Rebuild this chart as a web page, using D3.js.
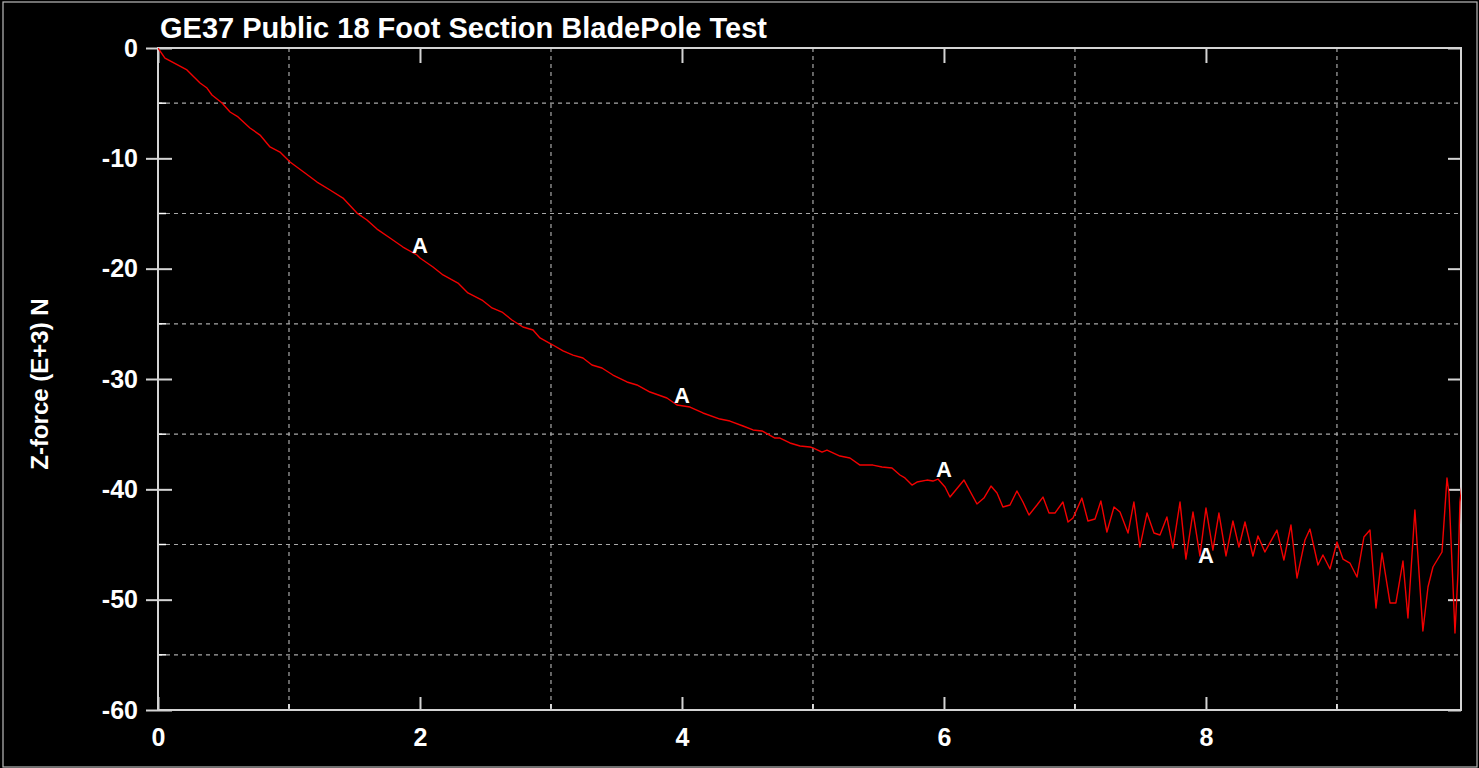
<!DOCTYPE html>
<html>
<head>
<meta charset="utf-8">
<script src="https://cdn.jsdelivr.net/npm/d3@7"></script>
<style>
  body { margin: 0; background: #000; }
  svg { display: block; font-family: "Liberation Sans", Arial, sans-serif; }
</style>
</head>
<body>
<div id="chart"></div>
<script>
const title = 'GE37 Public 18 Foot Section BladePole Test';
const yLabel = 'Z-force (E+3) N';

const xTicks = [0, 2, 4, 6, 8];
const xMinor = [1, 3, 5, 7, 9];
const yTicks = [0, -10, -20, -30, -40, -50, -60];
const yMinor = [-5, -15, -25, -35, -45, -55];

// displacement (x) and z-force (E+3 N)
const disp = [
  0, 0.053, 0.221, 0.244, 0.321, 0.374, 0.412, 0.489, 0.550, 0.611,
  0.702, 0.779, 0.855, 0.931, 1.008, 1.122, 1.214, 1.313, 1.412, 1.519,
  1.595, 1.672, 1.771, 1.870, 1.977, 2.000, 2.099, 2.176, 2.290, 2.366,
  2.473, 2.550, 2.626, 2.702, 2.786, 2.863, 2.916, 3.015, 3.092, 3.168,
  3.244, 3.313, 3.389, 3.473, 3.580, 3.656, 3.756, 3.885, 3.962, 4.061,
  4.160, 4.290, 4.366, 4.466, 4.542, 4.611, 4.710, 4.748, 4.824, 4.901,
  4.977, 5.000, 5.069, 5.107, 5.206, 5.282, 5.359, 5.458, 5.527, 5.603,
  5.664, 5.702, 5.756, 5.794, 5.870, 5.916, 5.954, 6.008, 6.046, 6.153,
  6.252, 6.305, 6.359, 6.405, 6.450, 6.504, 6.557, 6.603, 6.649, 6.710,
  6.756, 6.802, 6.847, 6.908, 6.947, 6.985, 7.053, 7.099, 7.153, 7.198,
  7.244, 7.298, 7.344, 7.405, 7.450, 7.496, 7.550, 7.603, 7.649, 7.702,
  7.748, 7.802, 7.847, 7.901, 7.954, 8.000, 8.053, 8.099, 8.153, 8.206,
  8.252, 8.298, 8.359, 8.397, 8.450, 8.542, 8.595, 8.649, 8.695, 8.756,
  8.794, 8.855, 8.893, 8.947, 9.000, 9.046, 9.099, 9.153, 9.206, 9.252,
  9.298, 9.344, 9.405, 9.450, 9.504, 9.542, 9.595, 9.656, 9.695, 9.733,
  9.802, 9.840, 9.855, 9.885, 9.901, 9.924, 9.939, 9.954
];
const force = [
  0, -0.91, -1.99, -2.27, -3.17, -3.63, -4.26, -4.99, -5.80, -6.25,
  -7.25, -7.89, -8.97, -9.43, -10.33, -11.33, -12.15, -12.87, -13.60, -14.96,
  -15.59, -16.41, -17.22, -18.04, -18.76, -19.03, -19.85, -20.57, -21.30, -22.20,
  -22.84, -23.56, -23.93, -24.65, -25.29, -25.56, -26.28, -26.92, -27.46, -27.83,
  -28.10, -28.73, -29.00, -29.64, -30.27, -30.54, -31.18, -31.72, -32.36, -32.54,
  -33.08, -33.63, -33.81, -34.26, -34.62, -34.71, -35.35, -35.35, -35.80, -36.07,
  -36.16, -36.25, -36.62, -36.44, -36.98, -37.16, -37.80, -37.80, -37.98, -38.07,
  -38.70, -38.97, -39.61, -39.34, -39.16, -39.25, -39.07, -39.79, -40.70, -39.16,
  -41.33, -40.79, -39.70, -40.33, -41.60, -41.42, -40.15, -41.15, -42.33, -41.42,
  -40.70, -42.15, -42.15, -41.15, -42.96, -42.60, -40.79, -42.87, -42.69, -41.06,
  -43.87, -41.60, -42.06, -43.96, -41.15, -45.23, -42.15, -43.96, -44.14, -42.51,
  -45.32, -41.15, -46.32, -42.06, -46.04, -41.69, -45.50, -42.15, -46.04, -42.87,
  -45.23, -42.96, -46.04, -44.23, -45.68, -43.69, -46.41, -43.23, -48.04, -44.59,
  -43.60, -46.86, -45.95, -47.22, -44.77, -46.32, -46.68, -47.95, -44.32, -43.69,
  -50.76, -45.77, -50.30, -50.30, -46.50, -51.66, -41.87, -52.84, -48.85, -47.04,
  -45.68, -38.97, -40.33, -48.49, -53.02, -47.58, -41.15, -39.61
];

// "A" symbols along the curve
const markerX = [2, 4, 6, 8];
const markerY = [-17.9, -31.5, -38.2, -46.0];

const width = 1479;
const height = 768;
const margin = { top: 48, right: 18, bottom: 58, left: 158 };
const w = width - margin.left - margin.right;
const h = height - margin.top - margin.bottom;

const axisColor = '#d4d4d4';
const gridColor = '#a8a8a8';
const tickText = d => String(d); // plain hyphen minus, as in the original

const svg = d3.select('#chart').append('svg')
  .attr('width', width)
  .attr('height', height);

svg.append('rect')
  .attr('width', width).attr('height', height)
  .attr('fill', '#000');

// outer frame of the picture
svg.append('rect')
  .attr('x', 3).attr('y', 2)
  .attr('width', width - 5).attr('height', height - 3)
  .attr('fill', 'none')
  .attr('stroke', '#bbb')
  .attr('stroke-width', 1.2);

const g = svg.append('g')
  .attr('transform', `translate(${margin.left},${margin.top})`);

const x = d3.scaleLinear().domain([0, 9.947]).range([0, w]);
const y = d3.scaleLinear().domain([-60, 0]).range([h, 0]);

// dashed grid at the half-steps
g.append('g').selectAll('line')
  .data(xMinor)
  .join('line')
  .attr('x1', d => x(d)).attr('x2', d => x(d))
  .attr('y1', 0).attr('y2', h)
  .attr('stroke', gridColor)
  .attr('stroke-width', 1.2)
  .attr('stroke-dasharray', '4,4');

g.append('g').selectAll('line')
  .data(yMinor)
  .join('line')
  .attr('x1', 0).attr('x2', w)
  .attr('y1', d => y(d)).attr('y2', d => y(d))
  .attr('stroke', gridColor)
  .attr('stroke-width', 1.2)
  .attr('stroke-dasharray', '4,4');

// minor ticks
g.append('g').selectAll('line')
  .data(yMinor)
  .join('line')
  .attr('x1', 0).attr('x2', 8)
  .attr('y1', d => y(d)).attr('y2', d => y(d))
  .attr('stroke', '#fff')
  .attr('stroke-width', 1.5);

g.append('g').selectAll('line')
  .data(xMinor)
  .join('line')
  .attr('x1', d => x(d)).attr('x2', d => x(d))
  .attr('y1', h).attr('y2', h - 6)
  .attr('stroke', '#fff')
  .attr('stroke-width', 1.5);

const styleAxis = sel => {
  sel.select('.domain').remove();
  sel.selectAll('.tick line').attr('stroke', axisColor).attr('stroke-width', 2);
  sel.selectAll('.tick text')
    .attr('fill', '#fff')
    .style('font-size', '25px')
    .style('font-weight', 'bold');
};

// Y axis: labels + outward ticks, then inward ticks
g.append('g')
  .call(d3.axisLeft(y).tickValues(yTicks).tickSize(12).tickPadding(8).tickFormat(tickText))
  .call(styleAxis)
  .attr('font-family', null);

g.append('g')
  .call(d3.axisRight(y).tickValues(yTicks).tickSize(14).tickFormat(''))
  .call(styleAxis);

// right axis ticks pointing inward
g.append('g')
  .attr('transform', `translate(${w},0)`)
  .call(d3.axisLeft(y).tickValues(yTicks).tickSize(13).tickFormat(''))
  .call(styleAxis);

// X axis: inward ticks, labels below
g.append('g')
  .attr('transform', `translate(0,${h})`)
  .call(d3.axisBottom(x).tickValues(xTicks).tickSize(-13).tickPadding(18).tickFormat(tickText))
  .call(styleAxis)
  .attr('font-family', null);

g.append('g')
  .call(d3.axisTop(x).tickValues(xTicks).tickSize(-15).tickFormat(''))
  .call(styleAxis);

// plot frame
g.append('rect')
  .attr('width', w).attr('height', h)
  .attr('fill', 'none')
  .attr('stroke', axisColor)
  .attr('stroke-width', 2);

// curve
g.append('clipPath').attr('id', 'plot-clip')
  .append('rect').attr('width', w).attr('height', h);

const line = d3.line()
  .x(i => x(disp[i]))
  .y(i => y(force[i]));

g.append('path')
  .datum(d3.range(disp.length))
  .attr('clip-path', 'url(#plot-clip)')
  .attr('fill', 'none')
  .attr('stroke', '#f20000')
  .attr('stroke-width', 1.4)
  .attr('stroke-linejoin', 'round')
  .attr('d', line);

// symbols
g.append('g').selectAll('text')
  .data(markerX)
  .join('text')
  .attr('x', d => x(d))
  .attr('y', (d, i) => y(markerY[i]))
  .attr('dy', '0.36em')
  .attr('text-anchor', 'middle')
  .attr('fill', '#fff')
  .style('font-size', '22px')
  .style('font-weight', 'bold')
  .text('A');

// title
svg.append('text')
  .attr('x', 160)
  .attr('y', 38)
  .attr('fill', '#fff')
  .style('font-size', '29px')
  .style('font-weight', 'bold')
  .text(title);

// y axis label
svg.append('text')
  .attr('transform', `translate(48,384)rotate(-90)`)
  .attr('text-anchor', 'middle')
  .attr('fill', '#fff')
  .style('font-size', '24px')
  .style('font-weight', 'bold')
  .text(yLabel);
</script>
</body>
</html>
